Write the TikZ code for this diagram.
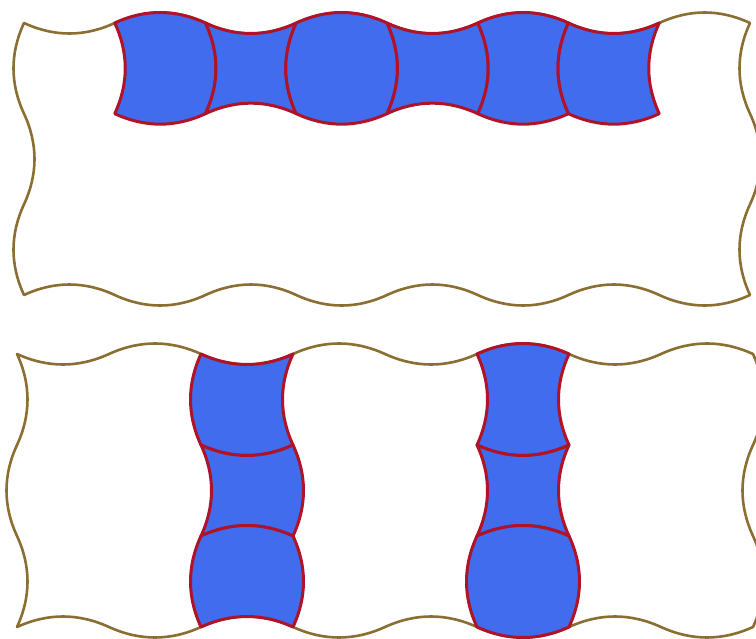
\documentclass[tikz,border=0pt]{standalone}
\usetikzlibrary{calc}
\definecolor{edgebrown}{RGB}{138,110,50}
\definecolor{cellblue}{RGB}{65,108,238}
\definecolor{cellred}{RGB}{176,18,40}
\begin{document}
\begin{tikzpicture}[x=1pt,y=-1pt,line join=round,
  bu/.style={to path={.. controls ($(\tikztostart)!1/3!(\tikztotarget)+(0,-14)$) and ($(\tikztostart)!2/3!(\tikztotarget)+(0,-14)$) .. (\tikztotarget)}},
  bd/.style={to path={.. controls ($(\tikztostart)!1/3!(\tikztotarget)+(0,14)$) and ($(\tikztostart)!2/3!(\tikztotarget)+(0,14)$) .. (\tikztotarget)}},
  bl/.style={to path={.. controls ($(\tikztostart)!1/3!(\tikztotarget)+(-14,0)$) and ($(\tikztostart)!2/3!(\tikztotarget)+(-14,0)$) .. (\tikztotarget)}},
  br/.style={to path={.. controls ($(\tikztostart)!1/3!(\tikztotarget)+(14,0)$) and ($(\tikztostart)!2/3!(\tikztotarget)+(14,0)$) .. (\tikztotarget)}},
  shapeline/.style={draw=edgebrown,line width=2.6pt,fill=white},
  cell/.style={draw=cellred,line width=3pt,fill=cellblue}]
\useasboundingbox (0,0) rectangle (756,639);
\fill[white] (0,0) rectangle (756,639);
\foreach \i in {0,...,8} {
  \foreach \j in {0,...,3} {
    \coordinate (t\i\j) at ({24+90.75*\i},{23+90.67*\j});
    \coordinate (b\i\j) at ({17+92*\i},{354+91*\j});
  }
}
% upper band
\draw[shapeline] (t00) to[bd] (t10) to[bu] (t20) to[bd] (t30) to[bu] (t40) to[bd] (t50) to[bu] (t60) to[bd] (t70) to[bu] (t80)
  to[bl] (t81) to[br] (t82) to[bl] (t83)
  to[bd] (t73) to[bu] (t63) to[bd] (t53) to[bu] (t43) to[bd] (t33) to[bu] (t23) to[bd] (t13) to[bu] (t03)
  to[bl] (t02) to[br] (t01) to[bl] (t00) -- cycle;
\draw[cell] (t10) to[bu] (t20) to[br] (t21) to[bd] (t11) to[br] (t10) -- cycle;
\draw[cell] (t20) to[bd] (t30) to[bl] (t31) to[bu] (t21) to[br] (t20) -- cycle;
\draw[cell] (t30) to[bu] (t40) to[br] (t41) to[bd] (t31) to[bl] (t30) -- cycle;
\draw[cell] (t40) to[bd] (t50) to[br] (t51) to[bu] (t41) to[br] (t40) -- cycle;
\draw[cell] (t50) to[bu] (t60) to[bl] (t61) to[bd] (t51) to[br] (t50) -- cycle;
\draw[cell] (t60) to[bd] (t70) to[bl] (t71) to[bd] (t61) to[bl] (t60) -- cycle;
% lower band
\draw[shapeline] (b00) to[bd] (b10) to[bu] (b20) to[bd] (b30) to[bu] (b40) to[bd] (b50) to[bu] (b60) to[bd] (b70) to[bu] (b80)
  to[br] (b81) to[bl] (b82) to[br] (b83)
  to[bd] (b73) to[bu] (b63) to[bd] (b53) to[bu] (b43) to[bd] (b33) to[bu] (b23) to[bd] (b13) to[bu] (b03)
  to[br] (b02) to[bl] (b01) to[br] (b00) -- cycle;
\draw[cell] (b20) to[bd] (b30) to[bl] (b31) to[bd] (b21) to[bl] (b20) -- cycle;
\draw[cell] (b21) to[bd] (b31) to[br] (b32) to[bu] (b22) to[br] (b21) -- cycle;
\draw[cell] (b22) to[bu] (b32) to[br] (b33) to[bu] (b23) to[bl] (b22) -- cycle;
\draw[cell] (b50) to[bu] (b60) to[bl] (b61) to[bd] (b51) to[br] (b50) -- cycle;
\draw[cell] (b51) to[bd] (b61) to[bl] (b62) to[bu] (b52) to[br] (b51) -- cycle;
\draw[cell] (b52) to[bu] (b62) to[br] (b63) to[bd] (b53) to[bl] (b52) -- cycle;
\end{tikzpicture}
\end{document}
